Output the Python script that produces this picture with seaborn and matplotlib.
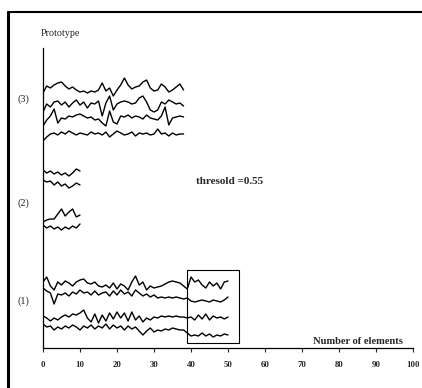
import numpy as np
import pandas as pd
import matplotlib
matplotlib.use("Agg")
import matplotlib.pyplot as plt
from matplotlib.patches import Rectangle
from matplotlib.lines import Line2D
import seaborn as sns

# ---------------- data ----------------
# Prototype (3): four series, 39 elements
p3_a = [255, 262, 260, 263, 265, 266, 262, 259, 261, 258, 256, 257, 255, 257, 256, 258, 265, 257, 260, 252,
        258, 263, 270, 263, 259, 261, 262, 266, 268, 260, 257, 258, 264, 261, 256, 258, 261, 264, 258]
p3_b = [236, 244, 241, 246, 247, 243, 246, 241, 245, 248, 243, 246, 240, 245, 244, 247, 232, 245, 252, 238,
        244, 246, 247, 246, 244, 245, 250, 252, 246, 238, 236, 238, 246, 244, 248, 246, 244, 245, 242]
p3_c = [222, 228, 232, 239, 225, 230, 229, 232, 231, 233, 234, 232, 230, 231, 228, 229, 225, 222, 237, 226,
        224, 232, 231, 233, 230, 232, 231, 229, 233, 230, 229, 228, 232, 241, 223, 230, 231, 232, 231]
p3_d = [207, 211, 214, 215, 213, 216, 214, 217, 215, 213, 215, 214, 213, 216, 214, 215, 213, 216, 211, 214,
        217, 215, 213, 214, 216, 212, 215, 214, 215, 213, 214, 219, 214, 215, 212, 215, 213, 214, 214]

# Prototype (2): four series, 11 elements
p2_a = [178, 175, 177, 174, 176, 173, 175, 172, 175, 179, 177]
p2_b = [168, 166, 167, 163, 166, 162, 164, 160, 162, 165, 163]
p2_c = [126, 128, 129, 129, 134, 139, 132, 136, 139, 131, 133]
p2_d = [123, 120, 122, 119, 121, 118, 121, 119, 122, 120, 124]

# Prototype (1): four series, 51 elements
p1_a = [66, 71, 62, 58, 66, 63, 67, 65, 62, 66, 68, 69, 65, 64, 66, 62, 61, 63, 60, 65,
        59, 64, 62, 58, 66, 72, 63, 66, 58, 62, 60, 61, 62, 64, 66, 67, 66, 65, 62, 59,
        71, 66, 68, 63, 60, 66, 62, 65, 59, 66, 67]
p1_b = [60, 57, 55, 44, 54, 53, 55, 52, 56, 54, 58, 55, 56, 53, 57, 53, 55, 56, 52, 57,
        53, 58, 54, 56, 52, 58, 55, 52, 54, 51, 53, 50, 51, 50, 51, 50, 51, 50, 49, 50,
        47, 46, 47, 48, 47, 46, 48, 47, 46, 48, 51]
p1_c = [32, 30, 27, 30, 28, 31, 33, 31, 34, 33, 35, 38, 30, 26, 34, 25, 33, 27, 35, 29,
        36, 30, 35, 27, 36, 28, 32, 26, 30, 28, 31, 30, 32, 31, 32, 31, 32, 31, 31, 30,
        31, 28, 33, 29, 34, 28, 32, 30, 31, 29, 31]
p1_d = [24, 21, 22, 18, 21, 19, 22, 20, 23, 21, 18, 22, 20, 23, 19, 22, 20, 24, 19, 23,
        20, 22, 18, 22, 19, 21, 17, 13, 17, 20, 16, 18, 17, 19, 18, 20, 19, 18, 18, 15,
        12, 13, 12, 15, 12, 14, 11, 13, 12, 14, 13]

x_ticks = [0, 10, 20, 30, 40, 50, 60, 70, 80, 90, 100]
group_labels = ["(1)", "(2)", "(3)"]
group_label_y = [47, 145, 249]
box_x = [39, 53]
box_y = [5, 78]

series = {"3a": p3_a, "3b": p3_b, "3c": p3_c, "3d": p3_d,
          "2a": p2_a, "2b": p2_b, "2c": p2_c, "2d": p2_d,
          "1a": p1_a, "1b": p1_b, "1c": p1_c, "1d": p1_d}
rows = []
for name, vals in series.items():
    for i, v in enumerate(vals):
        rows.append((name, i, v))
df = pd.DataFrame(rows, columns=["line", "x", "y"])

# ---------------- plot ----------------
sns.set_style("white")
plt.rcParams["font.family"] = ["Liberation Serif", "DejaVu Serif"]

fig = plt.figure(figsize=(4.22, 3.88), dpi=100)
ax = fig.add_axes([43 / 422, 40 / 388, 370 / 422, 300 / 388])

sns.lineplot(data=df, x="x", y="y", units="line", estimator=None,
             color="black", linewidth=1.0, ax=ax, legend=False)

ax.add_patch(Rectangle((box_x[0], box_y[0]), box_x[1] - box_x[0], box_y[1] - box_y[0],
                       fill=False, edgecolor="black", linewidth=0.8))

ax.set_xlim(0, 100)
ax.set_ylim(0, 300)
ax.set_xticks(x_ticks)
ax.set_xticklabels([str(t) for t in x_ticks], fontsize=6.3, fontweight="bold")
ax.set_yticks([])
ax.tick_params(axis="x", direction="out", length=3, width=0.8, pad=6.5, bottom=True)
for s in ["top", "right"]:
    ax.spines[s].set_visible(False)
for s in ["left", "bottom"]:
    ax.spines[s].set_color("black")
    ax.spines[s].set_linewidth(0.9)
ax.set_xlabel("")
ax.set_ylabel("")

for lab, yy in zip(group_labels, group_label_y):
    ax.text(-5.2, yy, lab, ha="center", va="center", fontsize=7.5, clip_on=False)

ax.text(4.8, 315, "Prototype", ha="center", va="center", fontsize=7.3, clip_on=False)
ax.text(50.3, 167, "thresold =0.55", ha="center", va="center", fontsize=8, fontweight="bold")
ax.text(85, 7, "Number of elements", ha="center", va="center", fontsize=7.6, fontweight="bold")

# scanned page frame
fig.add_artist(Line2D([8 / 422, 8 / 422], [0, 376 / 388], transform=fig.transFigure,
                      color="black", linewidth=2.2))
fig.add_artist(Line2D([8 / 422, 1.0], [376 / 388, 376 / 388], transform=fig.transFigure,
                      color="black", linewidth=1.5))

fig.savefig("out.png", dpi=100)
